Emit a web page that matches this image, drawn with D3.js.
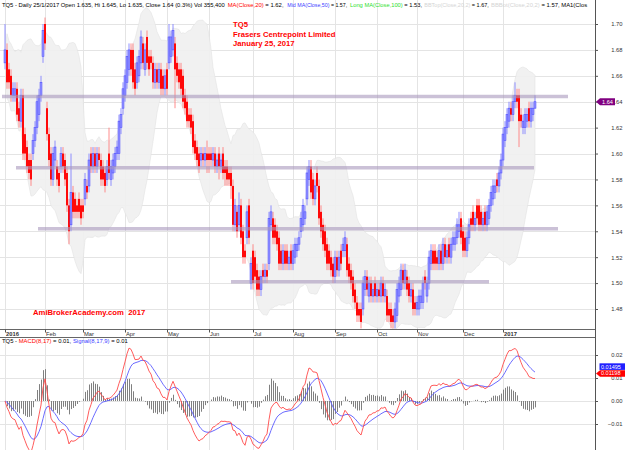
<!DOCTYPE html>
<html><head><meta charset="utf-8">
<script src="https://cdn.jsdelivr.net/npm/d3@7"></script>
<style>html,body{margin:0;padding:0;background:#fff;} svg{display:block;font-family:"Liberation Sans",Arial,sans-serif;}</style>
</head><body><svg id="c" width="625" height="450"></svg>
<script>
// ---------------- DATA ----------------
const openP = [
1.67,1.68,1.665,1.66,1.645,1.645,1.65,1.635,1.625,1.645,
1.615,1.605,1.595,1.595,1.60,1.61,1.62,1.63,1.645,1.675,
1.70,1.635,1.615,1.60,1.58,1.595,1.59,1.585,1.59,1.60,
1.595,1.585,1.56,1.545,1.57,1.565,1.56,1.565,1.56,1.56,
1.565,1.575,1.575,1.60,1.59,1.60,1.59,1.60,1.595,1.59,
1.585,1.58,1.60,1.58,1.585,1.59,1.60,1.60,1.62,1.635,
1.645,1.655,1.665,1.68,1.68,1.665,1.655,1.66,1.67,1.685,
1.665,1.69,1.675,1.675,1.67,1.655,1.665,1.655,1.665,1.66,
1.65,1.665,1.67,1.675,1.68,1.685,1.67,1.665,1.665,1.66,
1.645,1.64,1.63,1.63,1.625,1.61,1.605,1.60,1.595,1.60,
1.595,1.60,1.60,1.60,1.595,1.60,1.59,1.60,1.59,1.60,
1.59,1.59,1.585,1.585,1.575,1.545,1.555,1.545,1.56,1.54,
1.525,1.535,1.56,1.50,1.525,1.52,1.51,1.505,1.495,1.51,
1.505,1.51,1.515,1.545,1.55,1.545,1.54,1.535,1.525,1.515,
1.525,1.525,1.515,1.525,1.515,1.52,1.525,1.53,1.54,1.545,
1.55,1.565,1.58,1.59,1.58,1.565,1.585,1.575,1.555,1.545,
1.54,1.53,1.525,1.52,1.515,1.505,1.52,1.51,1.525,1.525,
1.525,1.53,1.515,1.51,1.505,1.495,1.485,1.48,1.48,1.48,
1.495,1.505,1.49,1.50,1.49,1.50,1.49,1.495,1.49,1.50,
1.49,1.49,1.48,1.48,1.475,1.47,1.475,1.49,1.495,1.51,
1.50,1.505,1.50,1.49,1.495,1.485,1.48,1.48,1.485,1.485,
1.505,1.49,1.50,1.515,1.525,1.525,1.52,1.515,1.525,1.515,
1.53,1.52,1.53,1.52,1.53,1.53,1.535,1.54,1.55,1.54,
1.535,1.525,1.535,1.55,1.555,1.545,1.56,1.56,1.555,1.545,
1.555,1.545,1.55,1.56,1.565,1.57,1.58,1.575,1.585,1.595,
1.61,1.62,1.625,1.635,1.63,1.64,1.645,1.645,1.63,1.62,
1.62,1.625,1.635,1.625,1.63,1.635];
const closeP = [
1.68,1.655,1.655,1.645,1.65,1.65,1.63,1.625,1.645,1.60,
1.60,1.59,1.585,1.58,1.61,1.62,1.64,1.645,1.655,1.695,
1.685,1.615,1.595,1.58,1.60,1.605,1.58,1.575,1.60,1.59,
1.58,1.56,1.54,1.57,1.555,1.555,1.555,1.555,1.55,1.555,
1.58,1.57,1.595,1.59,1.60,1.59,1.60,1.595,1.58,1.58,
1.575,1.59,1.585,1.59,1.595,1.60,1.605,1.625,1.63,1.65,
1.66,1.675,1.68,1.665,1.655,1.65,1.67,1.675,1.69,1.67,
1.68,1.67,1.665,1.67,1.655,1.665,1.655,1.665,1.65,1.65,
1.66,1.65,1.69,1.69,1.695,1.665,1.66,1.655,1.65,1.64,
1.635,1.625,1.625,1.62,1.605,1.60,1.595,1.59,1.60,1.595,
1.60,1.595,1.595,1.595,1.60,1.59,1.595,1.59,1.595,1.585,
1.585,1.58,1.58,1.575,1.545,1.56,1.54,1.56,1.535,1.52,
1.52,1.555,1.535,1.515,1.50,1.505,1.495,1.495,1.505,1.505,
1.51,1.505,1.55,1.555,1.535,1.535,1.53,1.515,1.515,1.525,
1.515,1.515,1.52,1.515,1.525,1.53,1.53,1.535,1.55,1.56,
1.555,1.585,1.59,1.57,1.565,1.575,1.575,1.55,1.54,1.53,
1.525,1.515,1.515,1.51,1.505,1.52,1.51,1.52,1.515,1.53,
1.535,1.51,1.505,1.50,1.49,1.485,1.475,1.475,1.47,1.50,
1.505,1.495,1.50,1.49,1.495,1.49,1.495,1.49,1.50,1.49,
1.495,1.475,1.475,1.47,1.47,1.48,1.495,1.50,1.51,1.50,
1.51,1.495,1.49,1.495,1.48,1.48,1.485,1.49,1.49,1.50,
1.50,1.50,1.52,1.525,1.515,1.515,1.515,1.525,1.515,1.53,
1.52,1.525,1.52,1.53,1.535,1.535,1.545,1.545,1.535,1.525,
1.525,1.535,1.545,1.545,1.545,1.55,1.55,1.545,1.545,1.55,
1.545,1.555,1.56,1.57,1.575,1.575,1.575,1.585,1.595,1.615,
1.62,1.63,1.635,1.63,1.64,1.645,1.64,1.625,1.625,1.625,
1.63,1.63,1.625,1.635,1.635,1.64];
const highP = [
1.70,1.685,1.67,1.665,1.655,1.655,1.655,1.64,1.65,1.65,
1.62,1.61,1.60,1.60,1.615,1.625,1.645,1.65,1.66,1.70,
1.705,1.64,1.62,1.605,1.605,1.61,1.595,1.59,1.605,1.605,
1.60,1.59,1.565,1.60,1.575,1.57,1.565,1.57,1.565,1.565,
1.585,1.58,1.60,1.605,1.605,1.605,1.605,1.605,1.60,1.595,
1.59,1.595,1.62,1.595,1.60,1.605,1.61,1.63,1.635,1.655,
1.665,1.68,1.685,1.685,1.685,1.67,1.675,1.68,1.695,1.69,
1.685,1.695,1.68,1.68,1.675,1.67,1.67,1.67,1.67,1.665,
1.665,1.67,1.70,1.695,1.70,1.69,1.675,1.67,1.67,1.665,
1.65,1.645,1.635,1.635,1.63,1.615,1.61,1.605,1.605,1.605,
1.605,1.61,1.605,1.605,1.605,1.605,1.60,1.605,1.60,1.605,
1.595,1.595,1.59,1.59,1.58,1.565,1.56,1.57,1.565,1.545,
1.53,1.56,1.565,1.52,1.53,1.525,1.515,1.51,1.51,1.515,
1.515,1.515,1.555,1.56,1.555,1.55,1.545,1.54,1.53,1.53,
1.53,1.53,1.525,1.53,1.53,1.535,1.535,1.54,1.555,1.565,
1.56,1.59,1.595,1.595,1.585,1.58,1.59,1.58,1.56,1.55,
1.545,1.535,1.53,1.525,1.52,1.525,1.525,1.525,1.53,1.535,
1.54,1.535,1.52,1.515,1.51,1.50,1.49,1.485,1.485,1.505,
1.51,1.51,1.505,1.505,1.50,1.505,1.50,1.50,1.505,1.505,
1.50,1.495,1.485,1.485,1.48,1.485,1.50,1.505,1.515,1.515,
1.515,1.51,1.505,1.50,1.50,1.49,1.49,1.495,1.495,1.505,
1.51,1.505,1.525,1.53,1.53,1.53,1.525,1.53,1.53,1.535,
1.535,1.53,1.535,1.535,1.54,1.54,1.55,1.555,1.555,1.545,
1.54,1.54,1.55,1.555,1.56,1.555,1.565,1.565,1.56,1.555,
1.56,1.56,1.565,1.575,1.58,1.58,1.585,1.59,1.60,1.62,
1.625,1.635,1.64,1.64,1.645,1.655,1.65,1.65,1.635,1.63,
1.635,1.635,1.64,1.64,1.64,1.645];
const lowP = [
1.665,1.65,1.65,1.64,1.64,1.64,1.625,1.62,1.62,1.595,
1.595,1.585,1.58,1.575,1.595,1.605,1.615,1.625,1.64,1.67,
1.68,1.61,1.59,1.575,1.575,1.59,1.575,1.57,1.585,1.585,
1.575,1.555,1.53,1.54,1.55,1.55,1.55,1.55,1.545,1.55,
1.56,1.565,1.57,1.585,1.585,1.585,1.585,1.59,1.575,1.575,
1.57,1.575,1.58,1.575,1.58,1.585,1.595,1.595,1.615,1.63,
1.64,1.65,1.66,1.66,1.65,1.645,1.65,1.655,1.665,1.665,
1.66,1.665,1.66,1.665,1.65,1.65,1.65,1.65,1.645,1.645,
1.645,1.645,1.665,1.67,1.675,1.635,1.655,1.65,1.645,1.635,
1.63,1.62,1.62,1.615,1.60,1.595,1.59,1.585,1.59,1.59,
1.59,1.585,1.585,1.59,1.59,1.585,1.585,1.58,1.585,1.58,
1.575,1.575,1.575,1.565,1.54,1.54,1.535,1.54,1.53,1.515,
1.515,1.53,1.53,1.495,1.495,1.50,1.49,1.49,1.49,1.50,
1.50,1.50,1.51,1.54,1.53,1.53,1.525,1.51,1.51,1.51,
1.51,1.51,1.51,1.51,1.51,1.515,1.52,1.525,1.535,1.54,
1.545,1.56,1.575,1.565,1.56,1.56,1.57,1.545,1.535,1.525,
1.52,1.51,1.51,1.505,1.50,1.50,1.505,1.505,1.51,1.52,
1.52,1.505,1.50,1.495,1.485,1.48,1.47,1.47,1.465,1.475,
1.49,1.49,1.485,1.485,1.485,1.485,1.485,1.485,1.485,1.485,
1.485,1.47,1.47,1.465,1.465,1.465,1.47,1.485,1.49,1.495,
1.495,1.49,1.485,1.485,1.475,1.475,1.475,1.475,1.48,1.48,
1.495,1.485,1.495,1.51,1.51,1.51,1.51,1.51,1.51,1.51,
1.515,1.515,1.515,1.515,1.525,1.525,1.53,1.535,1.53,1.52,
1.52,1.52,1.53,1.54,1.54,1.54,1.545,1.54,1.54,1.54,
1.54,1.54,1.545,1.555,1.56,1.565,1.57,1.57,1.58,1.59,
1.605,1.615,1.62,1.625,1.625,1.635,1.635,1.605,1.62,1.615,
1.615,1.62,1.62,1.62,1.625,1.635];

const monthBars   = [0, 20, 39, 60, 81, 102, 124, 144, 165, 186, 206, 229, 249];
const monthLabels = ["2016","Feb","Mar","Apr","May","Jun","Jul","Aug","Sep","Oct","Nov","Dec","2017"];
const priceTicks  = [1.48,1.50,1.52,1.54,1.56,1.58,1.60,1.62,1.64,1.66,1.68,1.70];
const macdTicks   = [-0.01, 0.00, 0.01, 0.02];
const supportLevels = [1.644, 1.589, 1.542, 1.501];
const supportFrom   = [-1.5, 5.5, 16.5, 113];
const supportTo     = [281.5, 264.5, 276.5, 242];
const lastClose = 1.64, lastMacd = 0.01198, lastSignal = 0.01495;
const titleLines = ["TQ5", "Frasers Centrepoint Limited", "January 25, 2017"];

// ---------------- SETUP ----------------
const svg = d3.select("#c");
const W = 625, H = 450, axisX = 595.5;
const x  = d3.scaleLinear().domain([0, 295]).range([5, 595]);
const yP = d3.scaleLinear().domain([1.48, 1.70]).range([309, 24]);
const yM = d3.scaleLinear().domain([0, 0.02]).range([401, 355]);
const n = closeP.length;
const bars = d3.range(n).map(i => ({i, o: openP[i], h: highP[i], l: lowP[i], c: closeP[i]}));

// indicators (computed from the close series as the charting program does)
const bb = bars.map((d, i) => {
  const w = closeP.slice(Math.max(0, i - 19), i + 1);
  const m = d3.mean(w), sd = Math.sqrt(d3.mean(w, v => (v - m) ** 2));
  return {i, top: m + 2 * sd, bot: m - 2 * sd};
});
function ema(arr, p) { const k = 2 / (p + 1); const out = []; arr.forEach((v, i) => out.push(i === 0 ? v : v * k + out[i - 1] * (1 - k))); return out; }
const e8 = ema(closeP, 8), e17 = ema(closeP, 17);
const macd = e8.map((v, i) => v - e17[i]);
const signal = ema(macd, 9);

const defs = svg.append("defs");
defs.append("clipPath").attr("id", "cpMain").append("rect").attr("x", 0).attr("y", 0).attr("width", 595).attr("height", 329);
defs.append("clipPath").attr("id", "cpMacd").append("rect").attr("x", 0).attr("y", 338).attr("width", 595).attr("height", 112);

svg.append("rect").attr("width", W).attr("height", H).attr("fill", "#fff");

// ---------------- MAIN PANEL ----------------
const main = svg.append("g").attr("clip-path", "url(#cpMain)");
main.selectAll("line.hg").data(priceTicks).join("line").attr("class", "hg")
  .attr("x1", 0).attr("x2", 595).attr("y1", d => Math.round(yP(d)) + 0.5).attr("y2", d => Math.round(yP(d)) + 0.5)
  .attr("stroke", "#e4e4e4").attr("stroke-width", 1);
main.selectAll("line.vg").data(monthBars).join("line").attr("class", "vg")
  .attr("x1", d => Math.round(x(d)) + 0.5).attr("x2", d => Math.round(x(d)) + 0.5).attr("y1", 0).attr("y2", 329)
  .attr("stroke", "#e4e4e4").attr("stroke-width", 1);

main.append("path").datum(bb)
  .attr("d", d3.area().x(d => x(d.i)).y0(d => yP(d.bot)).y1(d => yP(d.top)))
  .attr("fill", "#efefef").attr("fill-opacity", 0.9).attr("stroke", "#e2e2e2").attr("stroke-width", 0.6);

// wicks
main.selectAll("line.wick").data(bars).join("line").attr("class", "wick")
  .attr("x1", d => x(d.i)).attr("x2", d => x(d.i))
  .attr("y1", d => yP(d.h)).attr("y2", d => yP(d.l))
  .attr("stroke", d => d.c >= d.o ? "#8585ff" : "#ff8080").attr("stroke-width", 0.9);
// bodies
main.selectAll("rect.body").data(bars).join("rect").attr("class", "body")
  .attr("x", d => x(d.i) - 0.95).attr("width", 1.9)
  .attr("y", d => yP(Math.max(d.o, d.c)))
  .attr("height", d => Math.max(1, Math.abs(yP(d.o) - yP(d.c))))
  .attr("fill", d => d.c >= d.o ? "#9c9cff" : "#ff0000")
  .attr("stroke", d => d.c >= d.o ? "#5050ff" : "none").attr("stroke-width", 0.6);

// support / resistance lines
main.selectAll("line.sr").data(supportLevels).join("line").attr("class", "sr")
  .attr("x1", (d, i) => x(supportFrom[i])).attr("x2", (d, i) => x(supportTo[i]))
  .attr("y1", d => yP(d)).attr("y2", d => yP(d))
  .attr("stroke", "#a898bc").attr("stroke-opacity", 0.6).attr("stroke-width", 3.6);

// title & watermark
svg.append("g").selectAll("text").data(titleLines).join("text")
  .attr("x", 233).attr("y", (d, i) => 27.4 + i * 9.1)
  .attr("fill", "#ff0000").attr("font-size", 7.7).attr("font-weight", "bold").text(d => d);
svg.append("text").attr("x", 33).attr("y", 314.8).attr("fill", "#ff0000")
  .attr("font-size", 7.7).attr("font-weight", "bold").attr("xml:space", "preserve")
  .text("AmiBrokerAcademy.com  2017");

// header: chunks anchored at positions measured on the reference, shrunk to fit their slot
const hdrChunks = [
  {x: 2,     w: 223,  parts: [["TQ5 - Daily 25/1/2017 Open 1.635, Hi 1.645, Lo 1.635, Close 1.64 (0.3%) Vol 355,400", "#000"]]},
  {x: 227.7, w: 57,   parts: [["MA(Close,20)", "#ff0000"], [" = 1.62,", "#000"]]},
  {x: 287.3, w: 60,   parts: [["Mid MA(Close,50)", "#3c3cff"], [" = 1.57,", "#000"]]},
  {x: 350,   w: 72,   parts: [["Long MA(Close,100)", "#2ee02e"], [" = 1.53,", "#000"]]},
  {x: 424.3, w: 64.5, parts: [["BBTop(Close,20,2)", "#d4d4d4"], [" = 1.67,", "#000"]]},
  {x: 491,   w: 101,  parts: [["BBBot(Close,20,2)", "#d4d4d4"], [" = 1.57, MA1(Clos", "#000"]]}
];
hdrChunks.forEach(ch => {
  const t = svg.append("text").attr("x", ch.x).attr("y", 6.6).attr("font-size", 5.9).attr("xml:space", "preserve");
  ch.parts.forEach(p => t.append("tspan").attr("fill", p[1]).text(p[0]));
  const natural = t.node().getComputedTextLength();
  if (natural > ch.w) t.attr("font-size", (5.9 * ch.w / natural).toFixed(3));
});

// right price axis
const rAxis = svg.append("g").attr("transform", `translate(${axisX},0)`)
  .call(d3.axisRight(yP).tickValues(priceTicks).tickSize(2.5).tickFormat(d3.format(".2f")));
rAxis.select(".domain").remove();
rAxis.selectAll("line").attr("stroke", "#555");
rAxis.selectAll("text").attr("x", 27).attr("text-anchor", "end").attr("font-size", 5.8).attr("fill", "#333").attr("font-family", "Liberation Sans, Arial, sans-serif");

// last price marker
const yl = yP(lastClose);
svg.append("path").attr("d", `M596,${yl} L600,${yl - 3.6} L615,${yl - 3.6} L615,${yl + 3.6} L600,${yl + 3.6} Z`).attr("fill", "#800080");
svg.append("text").attr("x", 607.5).attr("y", yl + 2).attr("text-anchor", "middle").attr("font-size", 5.6).attr("fill", "#fff").text(lastClose.toFixed(2));

// date strip
svg.append("line").attr("x1", 0).attr("x2", 595).attr("y1", 329.5).attr("y2", 329.5).attr("stroke", "#666");
svg.append("line").attr("x1", 0).attr("x2", 595).attr("y1", 337.5).attr("y2", 337.5).attr("stroke", "#666");
svg.selectAll("line.mt").data(monthBars).join("line").attr("class", "mt")
  .attr("x1", d => Math.round(x(d)) + 0.5).attr("x2", d => Math.round(x(d)) + 0.5).attr("y1", 329.5).attr("y2", 332.5)
  .attr("stroke", "#555");
svg.selectAll("text.ml").data(monthLabels).join("text").attr("class", "ml")
  .attr("x", (d, i) => x(monthBars[i]) + 1).attr("y", 335.6)
  .attr("font-size", 5.8).attr("fill", "#333").attr("font-weight", d => /^\d/.test(d) ? "bold" : "normal").text(d => d);

// ---------------- MACD PANEL ----------------
const mp = svg.append("g").attr("clip-path", "url(#cpMacd)");
mp.selectAll("line.hg").data(macdTicks).join("line").attr("class", "hg")
  .attr("x1", 0).attr("x2", 595).attr("y1", d => Math.round(yM(d)) + 0.5).attr("y2", d => Math.round(yM(d)) + 0.5)
  .attr("stroke", "#e4e4e4");
mp.selectAll("line.vg").data(monthBars).join("line").attr("class", "vg")
  .attr("x1", d => Math.round(x(d)) + 0.5).attr("x2", d => Math.round(x(d)) + 0.5).attr("y1", 338).attr("y2", 450)
  .attr("stroke", "#e4e4e4");
mp.selectAll("line.hist").data(bars).join("line").attr("class", "hist")
  .attr("x1", d => x(d.i) + 0.5).attr("x2", d => x(d.i) + 0.5)
  .attr("y1", yM(0)).attr("y2", d => yM(macd[d.i] - signal[d.i]))
  .attr("stroke", "#808080").attr("stroke-width", 1);
mp.append("path").datum(signal).attr("d", d3.line().x((d, i) => x(i)).y(d => yM(d)))
  .attr("fill", "none").attr("stroke", "#5a5aff").attr("stroke-width", 0.9);
mp.append("path").datum(macd).attr("d", d3.line().x((d, i) => x(i)).y(d => yM(d)))
  .attr("fill", "none").attr("stroke", "#ff4a4a").attr("stroke-width", 0.9);

const mh = svg.append("text").attr("x", 2).attr("y", 343).attr("font-size", 5.9).attr("xml:space", "preserve");
[["TQ5 - ", "#000"], ["MACD(8,17)", "#ff0000"], [" = 0.01, ", "#000"], ["Signal(8,17,9)", "#3c3cff"], [" = 0.01", "#000"]]
  .forEach(s => mh.append("tspan").attr("fill", s[1]).text(s[0]));

const mAxis = svg.append("g").attr("transform", `translate(${axisX},0)`)
  .call(d3.axisRight(yM).tickValues(macdTicks).tickSize(2.5).tickFormat(d3.format(".2f")));
mAxis.select(".domain").remove();
mAxis.selectAll("line").attr("stroke", "#555");
mAxis.selectAll("text").attr("x", 27).attr("text-anchor", "end").attr("font-size", 5.8).attr("fill", "#333").attr("font-family", "Liberation Sans, Arial, sans-serif");

const ys = yM(lastSignal), ym = yM(lastMacd);
svg.append("rect").attr("x", 599.5).attr("y", ys - 3.3).attr("width", 26).attr("height", 6.6).attr("fill", "#2020ff");
svg.append("text").attr("x", 601).attr("y", ys + 2).attr("font-size", 5.5).attr("fill", "#fff").text(lastSignal.toFixed(5));
svg.append("path").attr("d", `M596,${ym} L600,${ym - 3.3} L625,${ym - 3.3} L625,${ym + 3.3} L600,${ym + 3.3} Z`).attr("fill", "#ff0000");
svg.append("text").attr("x", 601).attr("y", ym + 2).attr("font-size", 5.5).attr("fill", "#fff").text(lastMacd.toFixed(5));

// right axis line
svg.append("line").attr("x1", axisX).attr("x2", axisX).attr("y1", 0).attr("y2", H).attr("stroke", "#555");
</script></body></html>
